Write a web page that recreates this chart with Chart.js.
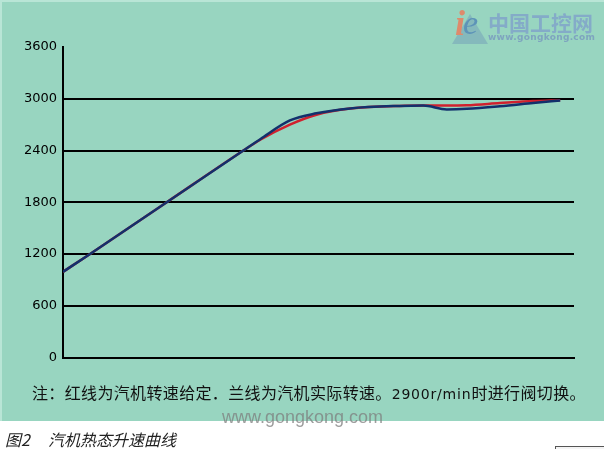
<!DOCTYPE html>
<html>
<head>
<meta charset="utf-8">
<script src="https://cdn.jsdelivr.net/npm/chart.js@4.4.0/dist/chart.umd.min.js"></script>
<style>
  html, body { margin: 0; padding: 0; background: #ffffff; }
  #wrap { position: relative; width: 604px; height: 449px; overflow: hidden;
          background: linear-gradient(#98d5c0 0px, #98d5c0 421px, #ffffff 421px); }
  #edge { position: absolute; left: 0; top: 0; width: 604px; height: 421px;
          border-top: 2px solid #b9e5d6; border-left: 2px solid #b9e5d6; box-sizing: border-box; }
  canvas { position: absolute; left: 0; top: 0; }
  .t { position: absolute; white-space: nowrap; }
  #note { left: 32px; top: 381px; font: 16px "Noto Sans CJK SC", sans-serif; line-height: 22px; color: #111; letter-spacing: 0.35px; }
  #note .num { font: 14px "DejaVu Sans", sans-serif; letter-spacing: 0.8px; }
  #wm { left: 222px; top: 407px; font: 18px "Liberation Sans", Arial, sans-serif; color: rgba(125,125,125,0.75); }
  .cap { top: 428px; font: italic 16px "Noto Sans CJK SC", sans-serif; line-height: 22px; color: #222; }
  #logo1 { left: 488px; top: 8px; font: bold 21px "Noto Sans CJK SC", sans-serif; line-height: 28px; color: #84abc8; }
  #logo2 { left: 488px; top: 32px; font: bold 9px "DejaVu Sans", sans-serif; line-height: 11px; color: #7ea4bf; letter-spacing: 0.3px; }
  #logoi { left: 455px; top: 2px; font: italic bold 36px "Liberation Serif", serif; color: #de8a6c; }
  #logoe { left: 463px; top: 4px; font: italic 34px "Liberation Serif", serif; color: #5d93b8; }
  #tri { position: absolute; left: 452px; top: 14px; width: 0; height: 0;
         border-left: 18px solid transparent; border-right: 18px solid transparent;
         border-bottom: 30px solid rgba(110,150,185,0.45); }
  #box { position: absolute; left: 555px; top: 446px; width: 60px; height: 10px; border: 1px solid #555; border-right: none; box-sizing: border-box; background: #f4f4f4; }
</style>
</head>
<body>
<div id="wrap">
  <div id="edge"></div>
  <canvas id="c" width="604" height="449"></canvas>
  <div id="tri"></div>
  <div class="t" id="logoi">i</div>
  <div class="t" id="logoe">e</div>
  <div class="t" id="logo1">中国工控网</div>
  <div class="t" id="logo2">www.gongkong.com</div>
  <div class="t" id="note">注：红线为汽机转速给定．兰线为汽机实际转速。<span class="num">2900r/min</span>时进行阀切换。</div>
  <div class="t" id="wm">www.gongkong.com</div>
  <div class="t cap" style="left:5px">图2</div>
  <div class="t cap" style="left:48px">汽机热态升速曲线</div>
  <div id="box"></div>
</div>
<script>
// Data (time: arbitrary units 0..100 across the plot)
const yTicks = [0, 600, 1200, 1800, 2400, 3000, 3600];
const timeActual  = [0, 5.3, 20.3, 35.3, 38.6, 44.4, 49.6, 56.2, 65.9, 70.5, 75.1, 79.0, 85.5, 92.0, 97.3];
const speedActual = [993, 1200, 1800, 2400, 2531, 2748, 2831, 2888, 2917, 2921, 2876, 2883, 2913, 2951, 2981];
const timeSet     = [0, 5.3, 20.3, 35.3, 38.6, 44.4, 49.6, 56.2, 65.9, 73.1, 79.0, 85.5, 92.0, 97.3];
const speedSet    = [993, 1200, 1800, 2400, 2525, 2700, 2815, 2886, 2917, 2921, 2925, 2950, 2973, 2984];

const toXY = (xs, ys) => xs.map((x, i) => ({ x: x, y: ys[i] }));

new Chart(document.getElementById('c'), {
  type: 'line',
  data: {
    datasets: [
      { label: '实际转速', data: toXY(timeActual, speedActual), borderColor: '#12306c', borderWidth: 2.5,
        pointRadius: 0, cubicInterpolationMode: 'monotone', fill: false },
      { label: '转速给定', data: toXY(timeSet, speedSet), borderColor: '#d0202e', borderWidth: 2.5,
        pointRadius: 0, cubicInterpolationMode: 'monotone', fill: false }
    ]
  },
  options: {
    responsive: false,
    animation: false,
    events: [],
    layout: { padding: { left: 0, top: 47, right: 30, bottom: 91.5 } },
    plugins: { legend: { display: false }, tooltip: { enabled: false } },
    scales: {
      x: {
        type: 'linear', min: 0, max: 100,
        ticks: { display: false },
        grid: { display: false, drawTicks: false },
        border: { display: true, color: '#000', width: 2 },
        afterFit: s => { s.height = 0; }
      },
      y: {
        type: 'linear', min: 0, max: 3600,
        afterBuildTicks: s => { s.ticks = yTicks.map(v => ({ value: v })); },
        ticks: { padding: 6, color: '#000', font: { family: 'DejaVu Sans', size: 13 },
                 callback: v => String(v) },
        grid: {
          drawTicks: false, lineWidth: 2,
          color: ctx => (ctx.tick && (ctx.tick.value === 3600 || ctx.tick.value === 0)) ? 'rgba(0,0,0,0)' : '#000'
        },
        border: { display: true, color: '#000', width: 2 },
        afterFit: s => { s.width = 63; }
      }
    }
  }
});
</script>
</body>
</html>
